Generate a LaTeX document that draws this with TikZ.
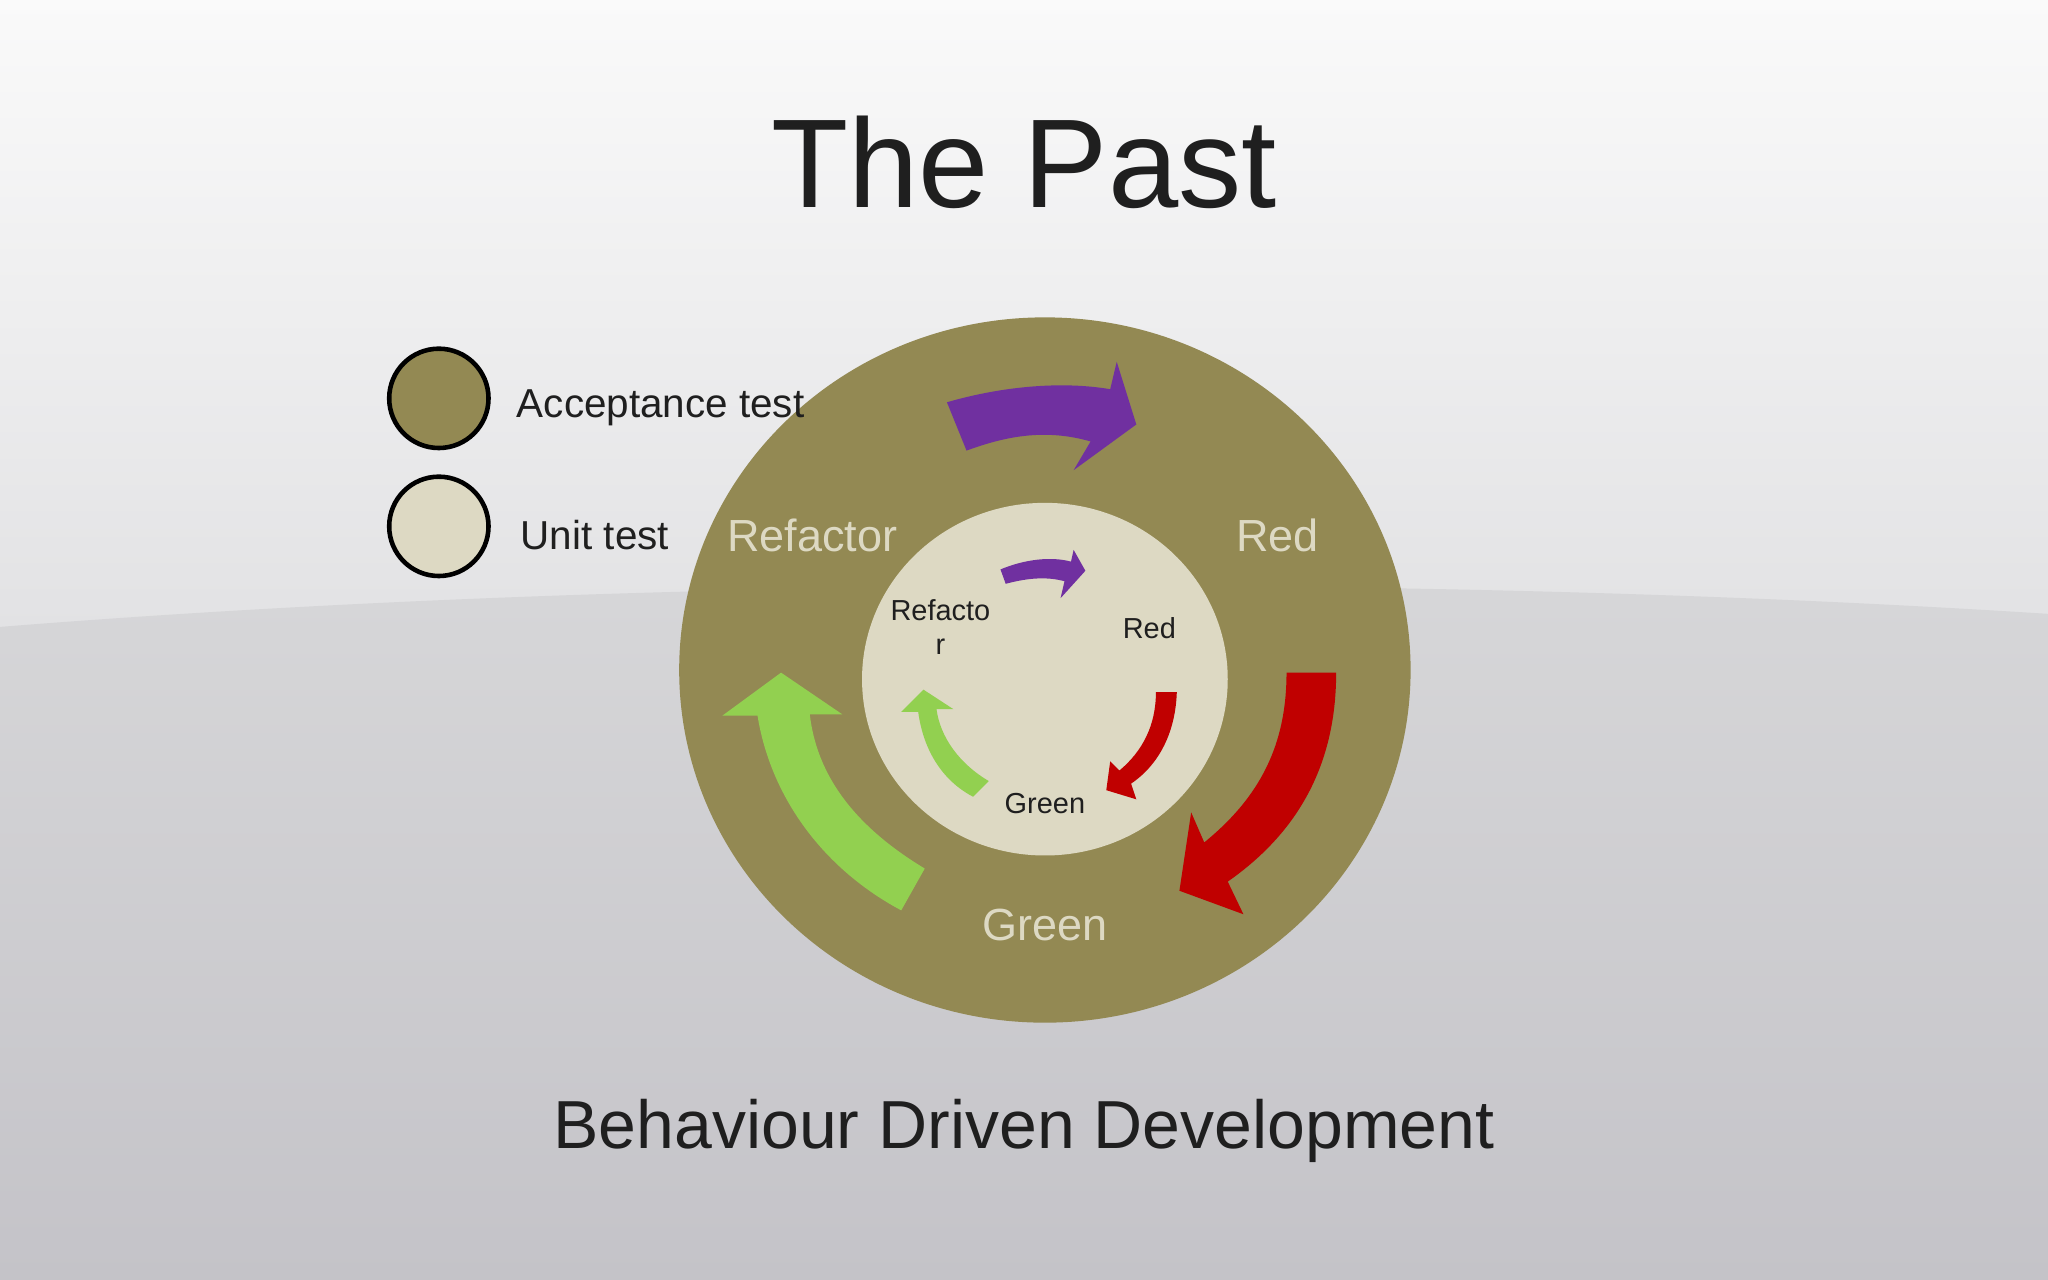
\documentclass[tikz,border=0pt]{standalone}
\usepackage{fontspec}
\setmainfont{Liberation Sans}
\definecolor{olive}{HTML}{938953}
\definecolor{pale}{HTML}{DDD9C3}
\definecolor{apurple}{HTML}{7030A0}
\definecolor{ared}{HTML}{C00000}
\definecolor{agreen}{HTML}{92D050}
\definecolor{bgtop}{HTML}{FAFAFA}
\definecolor{bgmid}{HTML}{E2E2E4}
\definecolor{bgbot}{HTML}{C4C3C8}
\begin{document}
\begin{tikzpicture}[x=0.01cm,y=-0.01cm,
  txt/.style={inner sep=0pt, text=black!88},
  ontxt/.style={inner sep=0pt, text=pale, font=\fontsize{9.8}{11}\selectfont},
  intxt/.style={inner sep=0pt, text=black!88, font=\fontsize{6.3}{7.5}\selectfont, align=center}]
\path[use as bounding box] (0,0) rectangle (1568,980);
\shade[top color=bgtop, bottom color=bgmid] (0,0) rectangle (1568,481);
\shade[top color=bgmid!95!black, bottom color=bgbot] (0,480) .. controls (500,440) and (1100,440) .. (1568,470) -- (1568,980) -- (0,980) -- cycle;
\node[txt, font=\fontsize{27.5}{30}\selectfont] (title) at (784,124) {The Past};
\node[txt, font=\fontsize{14.8}{17}\selectfont] (sub) at (784,866) {Behaviour Driven Development};
% legend
\node[circle, draw=black, line width=1pt, fill=olive, minimum size=0.76cm, inner sep=0pt] (lg1) at (336,305) {};
\node[circle, draw=black, line width=1pt, fill=pale, minimum size=0.76cm, inner sep=0pt] (lg2) at (336,403) {};
% circles
\path[fill=olive] (800,513) ellipse (280 and 270);
\path[fill=pale] (800,520) ellipse (140 and 135);
\node[txt, anchor=west, font=\fontsize{8.8}{11}\selectfont] (l1) at (395,312) {Acceptance test};
\node[txt, anchor=west, font=\fontsize{8.8}{11}\selectfont] (l2) at (398,410) {Unit test};
% outer arrows
\fill[apurple] (740,345) -- (725,308) .. controls (770,295) and (815,292) .. (850,298) -- (855,277) -- (870,325) -- (822,360) -- (835,338) .. controls (800,328) and (770,334) .. cycle;
\fill[ared] (985,515) -- (1023,515) .. controls (1023,590) and (990,640) .. (940,675) -- (952,700) -- (903,682) -- (912,622) -- (922,645) .. controls (965,610) and (985,570) .. cycle;
\fill[agreen] (708,665) .. controls (650,630) and (625,590) .. (620,547) -- (645,547) -- (598,515) -- (553,548) -- (580,548) .. controls (590,610) and (630,665) .. (690,697) -- cycle;
% inner arrows
\fill[apurple] (766,436) .. controls (785,428) and (805,426) .. (820,430) -- (822,421) -- (831,437) -- (812,458) -- (815,445) .. controls (800,441) and (785,443) .. (770,447) -- cycle;
\fill[ared] (885,530) -- (901,530) .. controls (900,560) and (888,585) .. (866,600) -- (870,612) -- (847,605) -- (850,583) -- (857,590) .. controls (875,575) and (885,555) .. cycle;
\fill[agreen] (757,598) .. controls (735,585) and (720,565) .. (717,543) -- (730,543) -- (707,528) -- (690,545) -- (703,545) .. controls (707,575) and (722,598) .. (745,610) -- cycle;
% labels
\node[ontxt] (oref) at (622,410) {Refactor};
\node[ontxt] (ored) at (978,410) {Red};
\node[ontxt] (ogreen) at (800,708) {Green};
\node[intxt] (iref) at (720,480) {Refacto\\r};
\node[intxt] (ired) at (880,481) {Red};
\node[intxt] (igreen) at (800,615) {Green};
\end{tikzpicture}
\end{document}
